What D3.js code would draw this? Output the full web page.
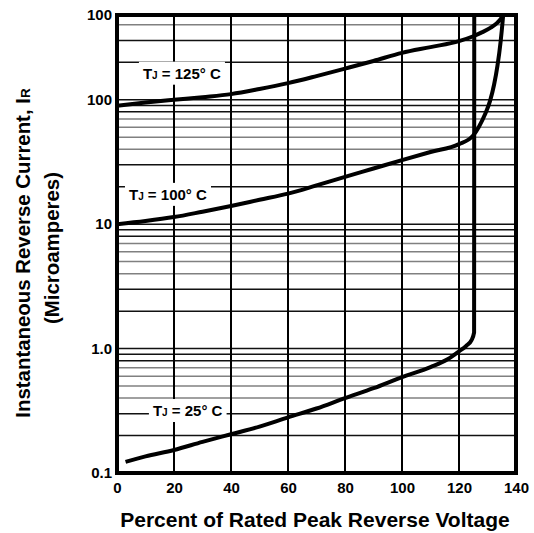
<!DOCTYPE html>
<html>
<head>
<meta charset="utf-8">
<script src="https://cdn.jsdelivr.net/npm/d3@7"></script>
<style>
  body { margin: 0; background: #fff; }
  text { font-family: "Liberation Sans", Arial, sans-serif; font-weight: bold; fill: #000; }
</style>
</head>
<body>
<div class="chart"></div>
<script>
// data
var xTicks = [0, 20, 40, 60, 80, 100, 120, 140];
var yTicks = [0.1, 1, 10, 100, 480];
var yTickLabels = ["0.1", "1.0", "10", "100", "100"];

// TJ = 25 C
var volt25 = [3, 10, 20, 30, 40, 50, 60, 70, 80, 90, 100, 110, 116, 120, 122.5, 124.4, 125.3, 125.35];
var amp25 = [0.123, 0.136, 0.153, 0.178, 0.205, 0.236, 0.28, 0.33, 0.40, 0.48, 0.59, 0.71, 0.82, 0.95, 1.05, 1.17, 1.35, 480];

// TJ = 100 C
var volt100 = [0, 10, 20, 30, 40, 50, 60, 70, 80, 90, 100, 110, 120, 124.9, 127, 129.1, 130.9, 132.3, 133.5, 134.6, 135.3, 135.6];
var amp100 = [10.0, 10.6, 11.4, 12.6, 14.0, 15.7, 17.6, 20.5, 24, 28, 32.7, 38, 44, 51.4, 60.8, 76, 98, 132, 188, 293, 425, 512];

// TJ = 125 C
var volt125 = [0, 10, 20, 30, 40, 50, 60, 70, 80, 90, 100, 110, 120, 125, 128, 131, 133.5, 135, 135.7];
var amp125 = [89.5, 95, 100, 105, 111, 122, 136, 155, 178, 205, 238, 265, 296, 324, 348, 378, 417, 458, 493];

var seriesNames = ["25", "100", "125"];
// label anchors (start x, middle y) in data units
var labelVolt = [12.6, 4.2, 9.1];
var labelAmp = [0.315, 17.2, 162];

var curves = [
  d3.zip(volt25, amp25),
  d3.zip(volt100, amp100),
  d3.zip(volt125, amp125)
];

var W = 534, H = 533;

var svg = d3.select(".chart")
  .append("svg")
    .attr("width", W)
    .attr("height", H);

var x = d3.scaleLinear().domain([0, 140]).range([117, 516]);
var y = d3.scaleLog().domain([0.1, 480]).range([473, 15]);

// minor log grid lines
var gridVals = [];
[0.1, 1, 10, 100].forEach(function(dec) {
  for (var m = 1; m <= 9; m++) {
    var v = dec * m;
    if (v > 0.1 && v < 480) gridVals.push({ v: v, m: m });
  }
});

svg.append("g")
  .selectAll("line")
  .data(gridVals)
  .enter().append("line")
    .attr("x1", x(0))
    .attr("x2", x(140))
    .attr("y1", function(d) { return y(d.v); })
    .attr("y2", function(d) { return y(d.v); })
    .attr("stroke", function(d) { return (d.m >= 4 && d.m <= 7) ? "#808080" : "#111"; })
    .attr("stroke-width", 1.5);

svg.append("g")
  .selectAll("line")
  .data(xTicks.slice(1, -1))
  .enter().append("line")
    .attr("x1", function(d) { return x(d); })
    .attr("x2", function(d) { return x(d); })
    .attr("y1", y(480))
    .attr("y2", y(0.1))
    .attr("stroke", "#000")
    .attr("stroke-width", 2);

// labels with white boxes
var labels = svg.append("g");
seriesNames.forEach(function(name, i) {
  var g = labels.append("g");
  var t = g.append("text")
    .attr("x", x(labelVolt[i]))
    .attr("y", y(labelAmp[i]))
    .attr("dy", "0.36em")
    .style("font-size", "15px");
  t.append("tspan").text("T");
  t.append("tspan").style("font-size", "10px").text("J");
  t.append("tspan").text(" = " + name + "\u00B0 C");
  var bb = t.node().getBBox();
  g.insert("rect", "text")
    .attr("x", bb.x - 4)
    .attr("y", y(labelAmp[i]) - 12)
    .attr("width", bb.width + 8)
    .attr("height", 23)
    .attr("fill", "#fff");
});

// curves
svg.append("clipPath").attr("id", "plot")
  .append("rect")
    .attr("x", x(0)).attr("y", y(480))
    .attr("width", x(140) - x(0)).attr("height", y(0.1) - y(480));

var line = d3.line()
  .x(function(d) { return x(d[0]); })
  .y(function(d) { return y(d[1]); })
  .curve(d3.curveMonotoneX);

svg.append("g")
  .attr("clip-path", "url(#plot)")
  .selectAll("path")
  .data(curves)
  .enter().append("path")
    .attr("d", line)
    .attr("fill", "none")
    .attr("stroke", "#000")
    .attr("stroke-width", 4)
    .attr("stroke-linejoin", "round");

// frame
svg.append("rect")
  .attr("x", x(0)).attr("y", y(480))
  .attr("width", x(140) - x(0)).attr("height", y(0.1) - y(480))
  .attr("fill", "none")
  .attr("stroke", "#000")
  .attr("stroke-width", 4);

// axes
var yAxis = svg.append("g")
  .attr("transform", "translate(" + x(0) + ",0)")
  .call(d3.axisLeft(y).tickValues(yTicks).tickSize(0).tickPadding(5)
    .tickFormat(function(d, i) { return yTickLabels[i]; }));
yAxis.select(".domain").remove();
yAxis.selectAll("text").style("font-size", "15px").attr("font-family", null);

var xAxis = svg.append("g")
  .attr("transform", "translate(0," + y(0.1) + ")")
  .call(d3.axisBottom(x).tickValues(xTicks).tickSize(0).tickPadding(9)
    .tickFormat(function(d) { return d; }));
xAxis.select(".domain").remove();
xAxis.selectAll("text").style("font-size", "15px").attr("font-family", null);

// axis titles
svg.append("text")
  .attr("x", 315)
  .attr("y", 527)
  .attr("text-anchor", "middle")
  .style("font-size", "21px")
  .text("Percent of Rated Peak Reverse Voltage");

var yt = svg.append("text")
  .attr("transform", "translate(30,253) rotate(-90)")
  .attr("text-anchor", "middle")
  .style("font-size", "20.4px");
yt.append("tspan").text("Instantaneous Reverse Current, I");
yt.append("tspan").style("font-size", "13.5px").text("R");

svg.append("text")
  .attr("transform", "translate(58.5,248) rotate(-90)")
  .attr("text-anchor", "middle")
  .style("font-size", "20.4px")
  .text("(Microamperes)");
</script>
</body>
</html>
